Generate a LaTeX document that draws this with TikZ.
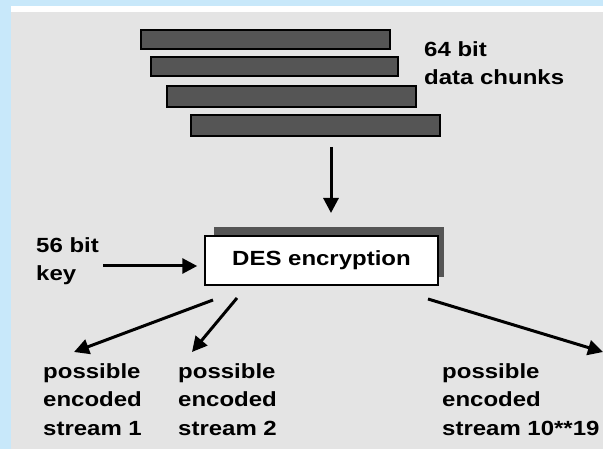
\documentclass[tikz,border=0pt]{standalone}
\usepackage{fontspec}
\setmainfont{Liberation Sans}
\newfontfamily\dfont[FakeStretch=1.17]{Liberation Sans Bold}
\usetikzlibrary{arrows.meta}
\definecolor{frameblue}{HTML}{C8E8FA}
\definecolor{panelgray}{HTML}{E4E4E4}
\definecolor{bardark}{HTML}{555555}
\tikzset{
  lbl/.style={font=\dfont\fontsize{20.5}{28.5}\selectfont, align=left, inner sep=0pt, anchor=base west},
  chunk/.style={draw=black, fill=bardark, inner sep=0pt},
  arr/.style={line width=3pt, -{Triangle[length=15pt,width=15pt]}},
}
\begin{document}
\begin{tikzpicture}[x=1pt,y=-1pt]
\useasboundingbox (0,0) rectangle (603,449);
\fill[frameblue] (0,0) rectangle (603,449);
\fill[white] (11,6) rectangle (603,12);
\fill[panelgray] (11,12) rectangle (603,449);
% data chunks
\node[chunk, line width=1.3pt, minimum width=249pt, minimum height=19pt] (bar1) at (265.5,39.5) {};
\node[chunk, line width=1.3pt, minimum width=247pt, minimum height=19pt] (bar2) at (274.5,66.5) {};
\node[chunk, line width=2pt, minimum width=249pt, minimum height=21pt] (bar3) at (291.5,96.5) {};
\node[chunk, line width=2pt, minimum width=249pt, minimum height=21pt] (bar4) at (315.5,125.5) {};
\node[lbl] (chunks) at (424,85) {64 bit\\data chunks};
% DES box
\fill[bardark] (214,227) rectangle (444,277);
\node[draw=black, fill=white, line width=1.5pt, minimum width=233pt, minimum height=49pt, inner sep=0pt,
      font=\dfont\fontsize{20.5}{24}\selectfont] (des) at (321.5,260.5) {DES encryption};
\node[lbl] (key) at (36,281) {56 bit\\key};
\coordinate (keyfrom) at (103,266);
\coordinate (downfrom) at (331,147);
\coordinate (downto) at (331,213);
\draw[arr] (downfrom) -- (downto);
\draw[arr] (keyfrom) -- (des.west |- keyfrom) [shorten >=7pt];
% outputs
\coordinate (o1s) at (213,300);
\coordinate (o1e) at (74,352);
\coordinate (o2s) at (237,298);
\coordinate (o2e) at (192,352);
\coordinate (o3s) at (428,299);
\coordinate (o3e) at (603,352);
\draw[arr] (o1s) -- (o1e);
\draw[arr] (o2s) -- (o2e);
\draw[arr] (o3s) -- (o3e);
\node[lbl] (s1) at (43,435) {possible\\encoded\\stream 1};
\node[lbl] (s2) at (178,435) {possible\\encoded\\stream 2};
\node[lbl] (s3) at (442,435) {possible\\encoded\\stream 10**19};
\end{tikzpicture}
\end{document}
